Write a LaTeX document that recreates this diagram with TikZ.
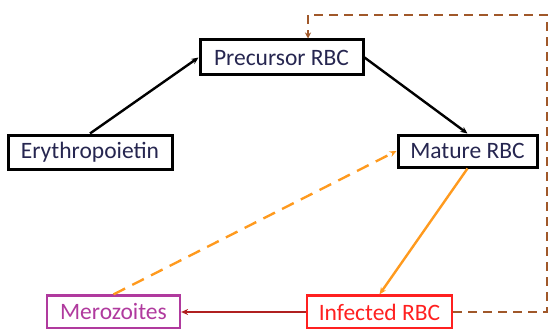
\documentclass[tikz,border=0pt]{standalone}
\usepackage{fontspec}
\setmainfont{Carlito}
\usetikzlibrary{arrows.meta,calc}
\definecolor{txt}{HTML}{262650}
\definecolor{orng}{HTML}{FF9A1E}
\definecolor{brwn}{HTML}{A0582A}
\definecolor{dred}{HTML}{B02020}
\definecolor{mag}{HTML}{B03A9E}
\definecolor{red1}{HTML}{FF2020}
\tikzset{
  box/.style={draw=black, line width=3pt, fill=white, inner sep=0pt, font=\fontsize{23.5}{26}\selectfont, text=txt},
  cbox/.style={draw=#1, line width=2.2pt, fill=white, inner sep=0pt, font=\fontsize{23.5}{26}\selectfont, text=#1},
  arr/.style={-{Stealth[length=7pt,width=6pt]}, line width=2.4pt},
}
\begin{document}
\begin{tikzpicture}[x=1pt,y=-1pt]
\useasboundingbox (0,0) rectangle (549,329);
\node[box, minimum width=163pt, minimum height=35pt] (prec) at (281.5,57.5) {Precursor RBC};
\node[box, minimum width=164pt, minimum height=34pt] (ery) at (90,152) {Erythropoietin};
\node[box, minimum width=139pt, minimum height=32pt] (mat) at (467.5,151) {Mature RBC};
\node[cbox=mag, minimum width=133pt, minimum height=33pt] (mer) at (113.5,312) {Merozoites};
\node[cbox=red1, minimum width=145pt, minimum height=33pt] (inf) at (379.5,312) {Infected RBC};
\draw[arr, black] (ery.north) -- (prec.west);
\draw[arr, black] (prec.east) -- (mat.north);
\draw[arr, orng] (mat.south) -- (inf.north);
\draw[arr, orng, dash pattern=on 13pt off 8pt] (mer.north) -- (mat.west);
\draw[arr, dred] (inf.west) -- (mer.east);
\coordinate (c1) at (547,15);
\coordinate (c2) at (308,15);
\draw[-{Stealth[length=6pt,width=6pt]}, brwn, line width=2pt, dash pattern=on 9pt off 6pt] (inf.east) -| (c1) -- (c2) -- (c2 |- prec.north);
\end{tikzpicture}
\end{document}
